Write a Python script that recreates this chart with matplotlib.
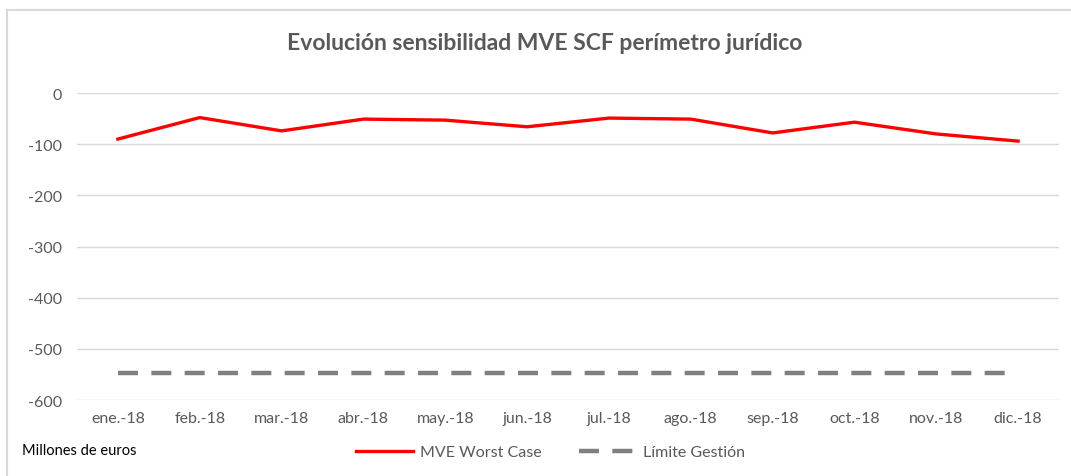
import matplotlib.pyplot as plt
from matplotlib.lines import Line2D

plt.rcParams['font.family'] = ['Lato', 'DejaVu Sans']
plt.rcParams['axes.unicode_minus'] = False

# Data (millones de euros)
months = ['ene.-18', 'feb.-18', 'mar.-18', 'abr.-18', 'may.-18', 'jun.-18',
          'jul.-18', 'ago.-18', 'sep.-18', 'oct.-18', 'nov.-18', 'dic.-18']
mve_worst = [-90, -48, -74, -51, -53, -66, -49, -51, -78, -57, -80, -94]
limite = [-548] * 12

fig = plt.figure(figsize=(10.71, 4.77), dpi=100)
ax = fig.add_axes([0.0719, 0.1593, 0.9169, 0.6436])

x = range(len(months))
ax.plot(x, mve_worst, color='#ff0000', lw=2.4, solid_joinstyle='round',
        label='MVE Worst Case')
ax.plot(x, limite, color='#7f7f7f', lw=3.2, dashes=(4.5, 3.0),
        label='Límite Gestión')

ax.set_xlim(-0.5, len(months) - 0.5)
ax.set_ylim(-600, 0)
ax.set_yticks(range(-600, 1, 100))
ax.set_xticks(list(x))
ax.set_xticklabels(months)
ax.grid(axis='y', color='#d9d9d9', lw=1)
ax.set_axisbelow(True)
for s in ax.spines.values():
    s.set_visible(False)
ax.tick_params(length=0, labelsize=11.5, colors='#595959', pad=8)
ax.tick_params(axis='y', pad=11)

fig.text(0.509, 0.908, 'Evolución sensibilidad MVE SCF perímetro jurídico',
         ha='center', va='center', fontsize=16.5, fontweight='bold', color='#595959')
fig.text(0.0205, 0.054, 'Millones de euros', ha='left', va='center',
         fontsize=10.5, color='black')

handles = [Line2D([], [], color='#ff0000', lw=2.4),
           Line2D([], [], color='#7f7f7f', lw=3.2, dashes=(4.5, 3.0))]
fig.legend(handles, ['MVE Worst Case', 'Límite Gestión'], loc='center',
           bbox_to_anchor=(0.514, 0.050), ncol=2, frameon=False,
           fontsize=11.5, labelcolor='#595959', handlelength=3.6,
           handletextpad=0.4, columnspacing=2.4)

# chart frame (top and left edges)
fig.add_artist(Line2D([0.0065, 1.0], [0.977, 0.977], color='#d9d9d9', lw=1.5,
                      transform=fig.transFigure))
fig.add_artist(Line2D([0.0065, 0.0065], [0.0, 0.977], color='#d9d9d9', lw=1.5,
                      transform=fig.transFigure))

fig.savefig('out.png', dpi=100)
